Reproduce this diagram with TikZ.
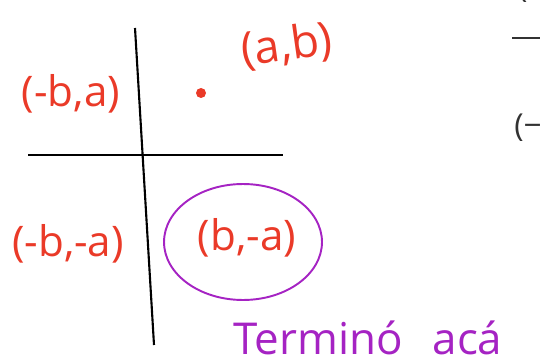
\documentclass[tikz,border=0pt]{standalone}
\usepackage{fontspec}
\usepackage{tikz}
\usetikzlibrary{shapes.geometric}
\setmainfont{Open Sans}
\definecolor{penred}{RGB}{234,58,40}
\definecolor{penpurple}{RGB}{165,35,195}
\definecolor{pengray}{RGB}{50,50,50}

\begin{document}
\begin{tikzpicture}[x=0.02cm, y=-0.02cm,
    axis/.style={draw, black, line width=1.2pt},
    pt/.style={circle, fill=penred, inner sep=0pt, minimum size=0.2cm},
    lbl/.style={text=penred, font=\fontsize{24}{28}\selectfont, inner sep=0pt},
    note/.style={text=penpurple, font=\fontsize{25}{30}\selectfont, inner sep=0pt}]

    % frame
    \useasboundingbox (0,0) rectangle (540,361);
    \clip (0,0) rectangle (540,361);

    % Axes
    \coordinate (ytop) at (135,28);
    \coordinate (ybot) at (154,345);
    \coordinate (xleft) at (28,155);
    \coordinate (xright) at (283,155);
    \draw[axis] (ytop) -- (ybot);
    \draw[axis] (xleft) -- (xright);

    % Point and its labels
    \node[pt] (p) at (201,93) {};
    \node[lbl, rotate=8, font=\fontsize{26}{30}\selectfont] (ab) at (287,46) {(a,b)};
    \node[lbl] (mba) at (71,94) {(-b,a)};
    \node[lbl] (mbma) at (68,244) {(-b,-a)};
    \node[lbl] (bma) at (247,238) {(b,-a)};

    % Circled answer
    \node[draw=penpurple, line width=1.1pt, ellipse, minimum width=3.16cm,
          minimum height=2.32cm] (ring) at (243,242) {};

    % Bottom note
    \node[note, anchor=base west] (done) at (233,354) {Terminó\hspace{0.6cm}acá};

    % Leftover from the next drawing
    \node[text=pengray, font=\fontsize{18}{20}\selectfont, anchor=base west] (lpar) at (512,-2) {(};
    \coordinate (bar1) at (512,38);
    \coordinate (bar2) at (540,38);
    \draw[pengray, line width=1.1pt] (bar1) -- (bar2);
    \node[text=pengray, font=\fontsize{18}{20}\selectfont, anchor=west, inner sep=0pt] (lneg) at (514,128) {(−};
\end{tikzpicture}
\end{document}
